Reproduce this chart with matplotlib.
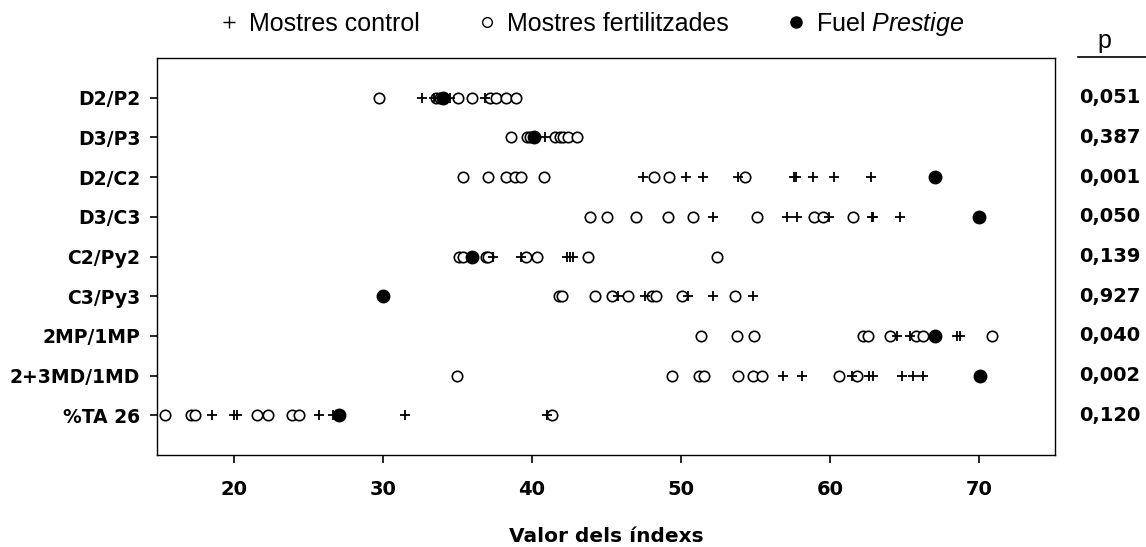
import matplotlib.pyplot as plt
from matplotlib.lines import Line2D

plt.rcParams['mathtext.fontset'] = 'custom'
plt.rcParams['mathtext.it'] = 'Liberation Sans:italic'
plt.rcParams['mathtext.rm'] = 'Liberation Sans'

indexs = ["D2/P2", "D3/P3", "D2/C2", "D3/C3", "C2/Py2", "C3/Py3",
          "2MP/1MP", "2+3MD/1MD", "%TA 26"]
p_vals = ["0,051", "0,387", "0,001", "0,050", "0,139", "0,927",
          "0,040", "0,002", "0,120"]

control = [
    [32.6, 33.4, 34.5, 36.85],
    [40.87],
    [47.47, 50.33, 51.45, 53.8, 57.6, 57.75, 58.88, 60.27, 62.75],
    [52.17, 57.13, 57.76, 59.95, 62.8, 62.9, 64.7],
    [37.4, 39.24, 42.33, 42.55, 42.75],
    [45.8, 47.58, 50.49, 52.12, 54.85],
    [64.47, 65.37, 68.55, 68.72],
    [56.82, 58.1, 61.45, 62.64, 62.86, 64.8, 65.55, 66.27],
    [18.54, 20.02, 20.22, 25.73, 26.62, 31.48, 40.98],
]

fertilitzades = [
    [29.71, 33.56, 33.8, 35.0, 36.0, 37.2, 37.6, 38.26, 38.9],
    [38.6, 39.64, 39.87, 41.54, 41.88, 42.1, 42.4, 43.0],
    [35.39, 37.07, 38.26, 38.86, 39.24, 40.83, 48.19, 49.19, 54.3],
    [43.89, 45.05, 46.96, 49.15, 50.83, 55.12, 58.93, 59.55, 61.57],
    [35.12, 35.39, 36.9, 37.07, 39.58, 40.36, 43.78, 52.39],
    [41.83, 41.99, 44.2, 45.35, 46.46, 48.03, 48.32, 50.04, 53.62],
    [51.31, 53.73, 54.9, 62.24, 62.58, 64.03, 65.77, 66.27, 70.84],
    [34.99, 49.42, 51.23, 51.54, 53.85, 54.81, 55.41, 60.6, 61.79],
    [15.37, 17.09, 17.38, 21.56, 22.3, 23.87, 24.36, 41.32],
]

fuel = [34.0, 40.1, 67.05, 70.02, 35.95, 29.98, 67.05, 70.07, 27.07]

fig = plt.figure(figsize=(11.46, 5.47), dpi=100)
ax = fig.add_axes([0.137, 0.168, 0.7836, 0.726])

for i in range(len(indexs)):
    y = i + 1
    ax.plot(control[i], [y] * len(control[i]), linestyle='none', marker='+',
            markersize=7.5, markeredgewidth=1.3, color='black', zorder=3)
    ax.plot(fertilitzades[i], [y] * len(fertilitzades[i]), linestyle='none',
            marker='o', markersize=7.5, markerfacecolor='white',
            markeredgecolor='black', markeredgewidth=1.2, zorder=2)
    ax.plot([fuel[i]], [y], linestyle='none', marker='o', markersize=9,
            color='black', zorder=4)

ax.set_xlim(14.83, 75.1)
ax.set_ylim(10, 0)
ax.set_yticks(range(1, len(indexs) + 1))
ax.set_yticklabels(indexs, fontsize=13.5, fontweight='bold', family='DejaVu Sans')
ax.set_xticks([20, 30, 40, 50, 60, 70])
for lb in ax.get_xticklabels():
    lb.set_fontweight('bold')
ax.tick_params(axis='x', labelsize=14, length=6, width=1.2, pad=12)
ax.tick_params(axis='y', length=5, width=1.2, pad=7)
ax.set_xlabel("Valor dels índexs", fontsize=14.5, fontweight='bold', labelpad=20)
for s in ax.spines.values():
    s.set_linewidth(1.0)

for i, p in enumerate(p_vals):
    ax.text(1.061, i + 1, p, transform=ax.get_yaxis_transform(),
            ha='center', va='center', fontsize=14, fontweight='bold')
fig.text(0.964, 0.912, "p", ha='center', va='baseline', fontsize=18,
         family='Liberation Sans')
fig.add_artist(Line2D([0.941, 1.0], [0.896, 0.896], color='black', lw=1.2))

handles = [
    Line2D([], [], linestyle='none', marker='+', markersize=8,
           markeredgewidth=1.0, color='black'),
    Line2D([], [], linestyle='none', marker='o', markersize=7,
           markerfacecolor='white', markeredgecolor='black'),
    Line2D([], [], linestyle='none', marker='o', markersize=8, color='black'),
]
labels = ["Mostres control", "Mostres fertilitzades", r"Fuel $\it{Prestige}$"]
fig.legend(handles, labels, loc='center', bbox_to_anchor=(0.515, 0.957),
           ncol=3, frameon=False, prop={'family': 'Liberation Sans', 'size': 18},
           handletextpad=0.3, columnspacing=2.2, handlelength=1.0)

fig.savefig("out.png", dpi=100)
